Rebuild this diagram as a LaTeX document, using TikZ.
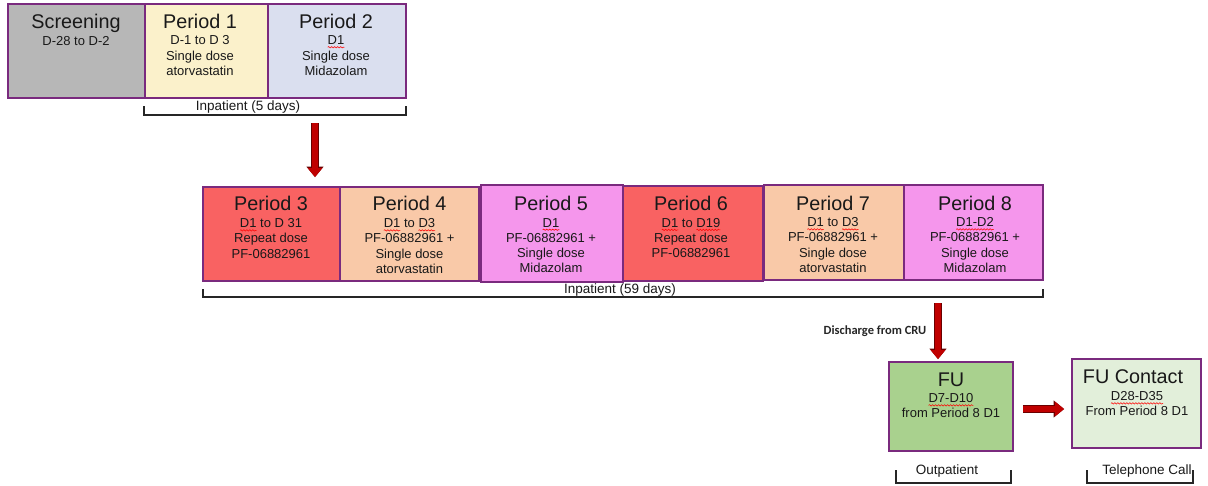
\documentclass[tikz,border=0pt]{standalone}
\usepackage{fontspec}
\setmainfont{Liberation Sans}
\newfontfamily\calib{Carlito}
\usetikzlibrary{arrows.meta,decorations.pathmorphing}
\definecolor{bord}{HTML}{7A2A7E}
\definecolor{cScr}{HTML}{B7B7B7}
\definecolor{cPa}{HTML}{FBF1CB}
\definecolor{cPb}{HTML}{DADFEF}
\definecolor{cRed}{HTML}{F96262}
\definecolor{cPeach}{HTML}{F9C9A8}
\definecolor{cPink}{HTML}{F596EC}
\definecolor{cFU}{HTML}{A9D18E}
\definecolor{cFUC}{HTML}{E2EFDA}
\definecolor{arr}{HTML}{C00000}
\definecolor{arrdk}{HTML}{6A0000}
\definecolor{sqred}{HTML}{FF0000}
\newsavebox\sqbox
\newlength\sqlen
\newcommand\sq[1]{\sbox\sqbox{#1}\setlength\sqlen{\wd\sqbox}\usebox\sqbox\tikz[baseline=0pt,overlay]\draw[sqred, line width=0.55pt, decorate, decoration={snake, amplitude=0.7pt, segment length=3pt}] (-\sqlen,-2.6pt) -- (0pt,-2.6pt);}
\begin{document}
\begin{tikzpicture}[x=1pt,y=-1pt,
  box/.style={draw=bord, line width=1.8pt, inner sep=0pt},
  boxthick/.style={draw=bord, line width=2.6pt, inner sep=0pt},
  ttl/.style={font=\fontsize{19.8}{22}\selectfont, inner sep=0pt, anchor=base, text=black!90},
  det/.style={font=\fontsize{13}{15.2}\selectfont, align=center, inner sep=0pt, anchor=north, text=black!90},
  lbl/.style={font=\fontsize{13.5}{16}\selectfont, inner sep=0pt, text=black!90},
  brk/.style={draw=black!85, line width=1.6pt},
  bigarrow/.style={draw=arr, line width=6.5pt, -{Triangle[length=9pt,width=14pt]},
    preaction={draw=arrdk, line width=8pt, -{Triangle[length=10.5pt,width=16.5pt]}}}
]
\useasboundingbox[fill=white] (0,0) rectangle (1208,485);

% ---------- top row ----------
\node[box, fill=cScr, minimum width=137pt, minimum height=94pt] (scr) at (76.5,51) {};
\node[box, fill=cPa,  minimum width=123pt, minimum height=94pt] (p1) at (206.5,51) {};
\node[box, fill=cPb,  minimum width=138pt, minimum height=94pt] (p2) at (337,51) {};

\node[ttl] (scrT) at (76,28.8) {Screening};
\node[det] (scrD) at (76,36.5) {D-28 to D-2};
\node[ttl] (p1T) at (200,28.8) {Period 1};
\node[det, font=\fontsize{13}{15.5}\selectfont] (p1D) at (200,35.5) {D-1 to D 3\\Single dose\\atorvastatin};
\node[ttl] (p2T) at (336,28.8) {Period 2};
\node[det, font=\fontsize{13}{15.5}\selectfont] (p2D) at (336,35.5) {\sq{D1}\\Single dose\\Midazolam};

\coordinate (b1l) at (144,115);
\coordinate (b1r) at (406,115);
\draw[brk] ([yshift=9pt]b1l) -- (b1l) -- (b1r) -- ([yshift=9pt]b1r);
\node[lbl] (b1t) at (248,107) {Inpatient (5 days)};

% ---------- middle row ----------
\node[box, fill=cRed,   minimum width=137pt, minimum height=94pt] (p3) at (271.5,234) {};
\node[box, fill=cPeach, minimum width=139pt, minimum height=94pt] (p4) at (409.5,234) {};
\node[box, fill=cRed,   minimum width=141pt, minimum height=95pt] (p6) at (692.5,233.5) {};
\node[boxthick, fill=cPink,  minimum width=142pt, minimum height=97pt] (p5) at (552,233.5) {};
\node[boxthick, fill=cPeach, minimum width=140pt, minimum height=95pt] (p7) at (834,232.5) {};
\node[boxthick, fill=cPink,  minimum width=139pt, minimum height=95pt] (p8) at (973.5,232.5) {};

\node[ttl] (p3T) at (271,210.8) {Period 3};
\node[det] (p3D) at (271,218.5) {\sq{D1} to D 31\\Repeat dose\\PF-06882961};
\node[ttl] (p4T) at (409.5,210.8) {Period 4};
\node[det] (p4D) at (409.5,218.5) {\sq{D1} to \sq{D3}\\PF-06882961 +\\Single dose\\atorvastatin};
\node[ttl] (p5T) at (551,210.5) {Period 5};
\node[det] (p5D) at (551,218) {\sq{D1}\\PF-06882961 +\\Single dose\\Midazolam};
\node[ttl] (p6T) at (691,210.5) {Period 6};
\node[det] (p6D) at (691,218) {\sq{D1} to \sq{D19}\\Repeat dose\\PF-06882961};
\node[ttl] (p7T) at (833,210) {Period 7};
\node[det] (p7D) at (833,217.5) {\sq{D1} to \sq{D3}\\PF-06882961 +\\Single dose\\atorvastatin};
\node[ttl] (p8T) at (975,210) {Period 8};
\node[det] (p8D) at (975,217.5) {\sq{D1-D2}\\PF-06882961 +\\Single dose\\Midazolam};

\coordinate (b2l) at (203,297);
\coordinate (b2r) at (1043,297);
\draw[brk] ([yshift=8pt]b2l) -- (b2l) -- (b2r) -- ([yshift=8pt]b2r);
\node[lbl] (b2t) at (620,290) {Inpatient (59 days)};

% ---------- bottom ----------
\node[box, fill=cFU,  minimum width=124pt, minimum height=89pt] (fu)  at (951,406.5) {};
\node[box, fill=cFUC, minimum width=129pt, minimum height=89pt] (fuc) at (1136.5,403.5) {};

\node[ttl] (fuT) at (951,386.8) {FU};
\node[det] (fuD) at (951,393.5) {\sq{D7-D10}\\from Period 8 D1};
\node[ttl] (fucT) at (1133,383.8) {FU Contact};
\node[det, font=\fontsize{13}{14.5}\selectfont] (fucD) at (1137,391.5) {\sq{D28-D35}\\From Period 8 D1};

\node[font=\calib\bfseries\fontsize{12.5}{14}\selectfont, inner sep=0pt, text=black!85] (dis) at (875,331) {Discharge from CRU};

\coordinate (b3l) at (896,483);
\coordinate (b3r) at (1011,483);
\draw[brk] ([yshift=13pt]b3l) -- (b3l) -- (b3r) -- ([yshift=13pt]b3r);
\node[lbl] (b3t) at (947,471) {Outpatient};
\coordinate (b4l) at (1087,483);
\coordinate (b4r) at (1193,483);
\draw[brk] ([yshift=13pt]b4l) -- (b4l) -- (b4r) -- ([yshift=13pt]b4r);
\node[lbl] (b4t) at (1147,471) {Telephone Call};

% ---------- arrows ----------
\coordinate (a1) at (315,123);
\draw[bigarrow, shorten >=9pt] (a1) -- (a1 |- p3.north);
\coordinate (a2) at (938,303);
\draw[bigarrow, shorten >=2pt] (a2) -- (a2 |- fu.north);
\draw[bigarrow, shorten <=9pt, shorten >=7pt] ([yshift=-2.5pt]fu.east) -- ([yshift=-2.5pt]fu.east -| fuc.west);
\end{tikzpicture}
\end{document}
